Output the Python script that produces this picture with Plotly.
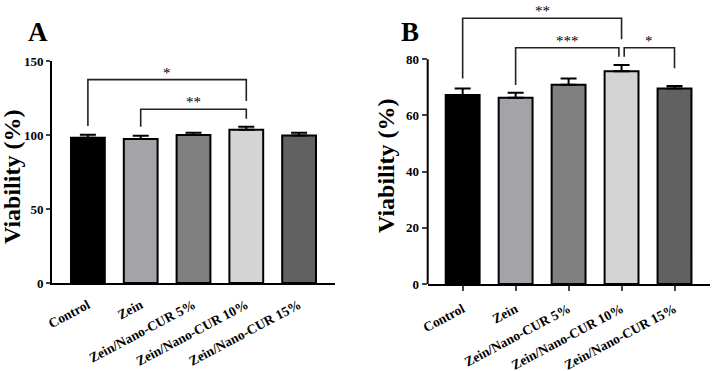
import plotly.graph_objects as go

categories = ["Control", "Zein", "Zein/Nano-CUR 5%", "Zein/Nano-CUR 10%", "Zein/Nano-CUR 15%"]
colors = ["#000000", "#a3a3a8", "#808080", "#d4d4d4", "#616161"]

viab_A = [98.2, 97.3, 100.0, 103.6, 99.6]
err_A = [2.0, 2.2, 1.6, 2.0, 2.0]
viab_B = [67.3, 66.3, 70.9, 75.7, 69.6]
err_B = [2.3, 1.8, 2.3, 2.3, 0.9]

yticks_A = [0, 50, 100, 150]
yticks_B = [0, 20, 40, 60, 80]

# brackets: (x_left, x_right, y_bar, y_left_end, y_right_end, label)
brackets_A = [
    (0.0, 3.0, 137.4, 106.0, 123.0, "*"),
    (1.0, 3.0, 117.4, 105.6, 111.0, "**"),
]
brackets_B = [
    (0.0, 3.0, 94.6, 73.2, 87.1, "**"),
    (1.0, 2.95, 84.1, 70.8, 80.9, "***"),
    (3.05, 4.0, 84.1, 80.9, 76.8, "*"),
]

FONT = "Liberation Serif"
fig = go.Figure()

for vals, errs, xa, ya in [(viab_A, err_A, "x", "y"), (viab_B, err_B, "x2", "y2")]:
    fig.add_trace(go.Bar(
        x=categories, y=vals, xaxis=xa, yaxis=ya,
        marker=dict(color=colors, line=dict(color="black", width=2)),
        width=0.64,
        error_y=dict(type="data", array=errs, arrayminus=[0] * 5, symmetric=False,
                     color="black", thickness=2, width=8),
        showlegend=False,
    ))

shapes = []
annotations = []
for (xr, yr, brs) in [("x", "y", brackets_A), ("x2", "y2", brackets_B)]:
    for (xl, xrgt, yb, yl, yrt, lab) in brs:
        shapes.append(dict(type="path", xref=xr, yref=yr,
                           path=f"M {xl},{yl} L {xl},{yb} L {xrgt},{yb} L {xrgt},{yrt}",
                           line=dict(color="#222222", width=1.6)))
        annotations.append(dict(x=(xl + xrgt) / 2, y=yb, xref=xr, yref=yr, text=lab,
                                showarrow=False, yanchor="bottom", yshift=-3,
                                font=dict(family=FONT, size=15, color="black")))

# y axis line of panel B stops at the last tick
shapes.append(dict(type="line", xref="x2 domain", yref="y2", x0=0, x1=0,
                   y0=yticks_B[0], y1=yticks_B[-1], line=dict(color="black", width=2)))

annotations += [
    dict(x=26 / 714, y=1 - 32 / 371, xref="paper", yref="paper", text="<b>A</b>",
         showarrow=False, xanchor="left", yanchor="middle",
         font=dict(family=FONT, size=27, color="black")),
    dict(x=399 / 714, y=1 - 32 / 371, xref="paper", yref="paper", text="<b>B</b>",
         showarrow=False, xanchor="left", yanchor="middle",
         font=dict(family=FONT, size=27, color="black")),
    dict(x=12 / 714, y=1 - 177 / 371, xref="paper", yref="paper", text="<b>Viability (%)</b>",
         showarrow=False, textangle=-90, xanchor="center", yanchor="middle",
         font=dict(family=FONT, size=24, color="black")),
    dict(x=386 / 714, y=1 - 166 / 371, xref="paper", yref="paper", text="<b>Viability (%)</b>",
         showarrow=False, textangle=-90, xanchor="center", yanchor="middle",
         font=dict(family=FONT, size=24, color="black")),
]

tickfont = dict(family=FONT, size=13, color="black", weight="bold")
xtickfont = dict(family=FONT, size=13.5, color="black", weight="bold")

common = dict(showgrid=False, zeroline=False, automargin=False)

fig.update_layout(
    width=714, height=371,
    margin=dict(l=0, r=0, t=0, b=0, autoexpand=False),
    paper_bgcolor="white", plot_bgcolor="white",
    shapes=shapes, annotations=annotations,
    xaxis=dict(domain=[52 / 714, 335 / 714], range=[-0.68, 4.68], anchor="y",
               showline=True, linecolor="black", linewidth=2, ticks="",
               ticklabelstandoff=7,
               tickangle=-28, tickfont=xtickfont, **common),
    yaxis=dict(domain=[(371 - 283) / 371, (371 - 61) / 371], range=[0, 150], anchor="x",
               showline=True, linecolor="black", linewidth=2, ticks="outside",
               ticklen=4, tickwidth=2, tickvals=yticks_A, tickfont=tickfont, **common),
    xaxis2=dict(domain=[427.7 / 714, 710 / 714], range=[-0.66, 4.67], anchor="y2",
                showline=True, linecolor="black", linewidth=2, ticks="outside",
                ticklen=5, tickwidth=2, ticklabelstandoff=5,
                tickangle=-28, tickfont=xtickfont, **common),
    yaxis2=dict(domain=[(371 - 284) / 371, (371 - 3.1) / 371], range=[0, 100], anchor="x2",
                showline=False, ticks="outside",
                ticklen=5, tickwidth=2, tickvals=yticks_B, tickfont=tickfont, **common),
)

fig.write_html("out.html",
               config={"displayModeBar": False},
               post_script="document.body.style.margin='0';document.body.style.padding='0';")
